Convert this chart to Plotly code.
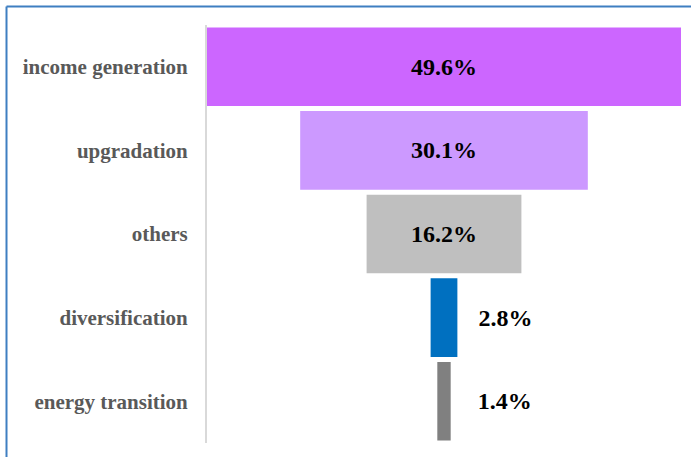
import plotly.graph_objects as go

categories = ["income generation", "upgradation", "others", "diversification", "energy transition"]
values = [49.6, 30.1, 16.2, 2.8, 1.4]
colors = ["#CC66FF", "#CC99FF", "#BFBFBF", "#0070C0", "#808080"]
text_positions = ["inside", "inside", "inside", "outside", "outside"]
text_labels = ["49.6%", "30.1%", "16.2%", "\u00a0\u00a0\u00a02.8%", "\u00a0\u00a0\u00a0\u00a01.4%"]

fig = go.Figure(go.Funnel(
    y=categories,
    x=values,
    text=text_labels,
    texttemplate="%{text}",
    textposition=text_positions,
    textfont=dict(family="Liberation Serif", size=24, color="black", weight="bold"),
    insidetextanchor="middle",
    marker=dict(color=colors, line=dict(width=0)),
    connector=dict(visible=False),
    cliponaxis=False,
))

W, H = 691, 457
ml, mr, mt, mb = 207, 10, 25, 14
pw, ph = W - ml - mr, H - mt - mb

def px_to_paper_x(px):
    return (px - ml) / pw

def px_to_paper_y(py):
    return (H - mb - py) / ph

fig.update_layout(
    width=W, height=H,
    margin=dict(l=ml, r=mr, t=mt, b=mb),
    paper_bgcolor="white", plot_bgcolor="white",
    funnelgap=0.06,
    showlegend=False,
    xaxis=dict(visible=False, range=[-24.8, 24.8]),
    yaxis=dict(
        showline=True, linecolor="#D9D9D9", linewidth=2,
        showgrid=False, zeroline=False,
        ticks="", ticklabelstandoff=13,
        tickfont=dict(family="Liberation Serif", size=21, color="#595959", weight="bold"),
    ),
    shapes=[
        dict(type="line", xref="paper", yref="paper",
             x0=px_to_paper_x(6.5), x1=px_to_paper_x(W + 5),
             y0=px_to_paper_y(6.5), y1=px_to_paper_y(6.5),
             line=dict(color="#3F7FC1", width=2)),
        dict(type="line", xref="paper", yref="paper",
             x0=px_to_paper_x(6.5), x1=px_to_paper_x(6.5),
             y0=px_to_paper_y(6.5), y1=px_to_paper_y(H + 5),
             line=dict(color="#3F7FC1", width=2)),
    ],
)

fig.write_html("out.html")
